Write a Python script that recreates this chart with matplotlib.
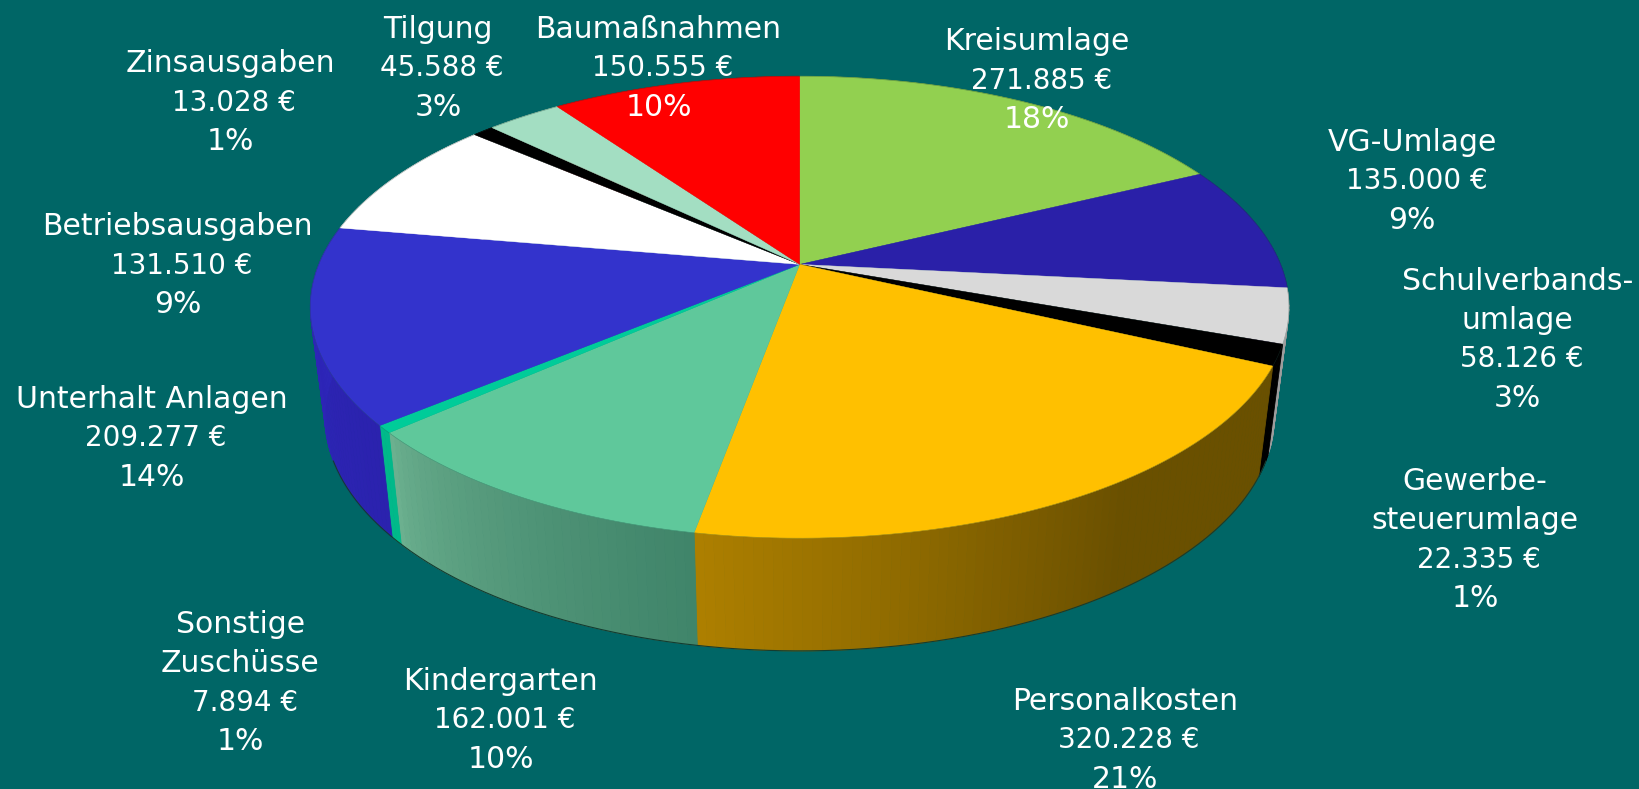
import numpy as np
import matplotlib
matplotlib.use('Agg')
import matplotlib.pyplot as plt

names = [['Kreisumlage'], ['VG-Umlage'], ['Schulverbands-', 'umlage'], ['Gewerbe-', 'steuerumlage'],
         ['Personalkosten'], ['Kindergarten'], ['Sonstige', 'Zuschüsse'], ['Unterhalt Anlagen'],
         ['Betriebsausgaben'], ['Zinsausgaben'], ['Tilgung'], ['Baumaßnahmen']]
values = [271885, 135000, 58126, 22335, 320228, 162001, 7894, 209277, 131510, 13028, 45588, 150555]
percents = ['18%', '9%', '3%', '1%', '21%', '10%', '1%', '14%', '9%', '1%', '3%', '10%']

top_colors = ['#92D050', '#2A20A8', '#D9D9D9', '#000000', '#FFC000', '#5FC89B',
              '#00CC99', '#3333CC', '#FFFFFF', '#000000', '#A3DEC2', '#FF0000']
side_left = ['#6E9C3C', '#1E1880', '#A0A0A0', '#000000', '#AD7F00', '#6CB08F',
             '#00B98A', '#2E27BC', '#BBBBBB', '#000000', '#7AA690', '#BB0000']
side_right = ['#6E9C3C', '#1E1880', '#8A8A8A', '#000000', '#6A5000', '#40856A',
              '#00B98A', '#2B22AE', '#BBBBBB', '#000000', '#7AA690', '#BB0000']

# label position: x, y of first line
label_x = [992, 1351, 1452, 1411, 1076, 479, 230, 145, 170, 220, 419, 630]
label_y = [40, 136, 269, 461, 671, 652, 598, 382, 217, 61, 28, 28]
label_size = 21.5
amount_size = 20
line_step = 37.3

cx, cy = 765, 253
ax_x, ax_y, k = 460, 213.4, 0.1855
shrink = 0.97


def top_edge(theta):
    w = 1 + k * np.cos(theta)
    return cx + ax_x * np.sin(theta) / w, cy - ax_y * np.cos(theta) / w


def bottom_edge(theta):
    w = 1 + k * np.cos(theta)
    x, y = top_edge(theta)
    return cx + shrink * (x - cx), cy + shrink * (y - cy) + 58 + 47 / w


def mix(c1, c2, t):
    c1 = np.array(matplotlib.colors.to_rgb(c1))
    c2 = np.array(matplotlib.colors.to_rgb(c2))
    return tuple(c1 + (c2 - c1) * min(t, 1))


fig = plt.figure(figsize=(16.39, 7.89), dpi=100, facecolor='#006666')
ax = fig.add_axes([0, 0, 1, 1])
ax.set_xlim(0, 1568)
ax.set_ylim(755, 0)
ax.axis('off')

edges = np.concatenate([[0], np.cumsum(values)]) / np.sum(values) * 2 * np.pi

# sides first, the tops cover whatever is behind
for i in range(len(values)):
    steps = np.linspace(edges[i], edges[i + 1], max(3, int((edges[i + 1] - edges[i]) * 60)))
    for j in range(len(steps) - 1):
        t = np.array([steps[j], steps[j + 1]])
        xt, yt = top_edge(t)
        xb, yb = bottom_edge(t)
        # gradient runs left to right on screen
        frac = 1 - j / (len(steps) - 2) if len(steps) > 2 else 0
        if i == 4:
            frac = min(frac / 0.6, 1)
        elif i == 5:
            frac = frac ** 0.7
        c = mix(side_left[i], side_right[i], frac)
        ax.fill(np.r_[xt, xb[::-1]], np.r_[yt, yb[::-1]], color=c, lw=0.6, zorder=2)

all_t = np.linspace(0, 2 * np.pi, 500)
xb, yb = bottom_edge(all_t)
front = np.cos(all_t) < -0.35
ax.plot(np.where(front, xb, np.nan), yb, color='#143C30', lw=0.8, zorder=3)

for i in range(len(values)):
    t = np.linspace(edges[i], edges[i + 1], 100)
    x, y = top_edge(t)
    ax.fill(np.r_[cx, x], np.r_[cy, y], color=top_colors[i], lw=0.3, zorder=4)

x, y = top_edge(all_t)
ax.plot(x, y, color='#1E4A40', lw=0.4, alpha=0.4, zorder=4)

for i in range(len(values)):
    amount = f'{values[i]:,}'.replace(',', '.') + ' €'
    lines = names[i] + [amount, percents[i]]
    for n, line in enumerate(lines):
        is_amount = line == amount
        ax.text(label_x[i] + (4 if is_amount else 0), label_y[i] + n * line_step, line, color='white',
                ha='center', va='center', fontsize=amount_size if is_amount else label_size,
                family='DejaVu Sans', zorder=5)

fig.savefig('out.png', dpi=100, facecolor=fig.get_facecolor())
